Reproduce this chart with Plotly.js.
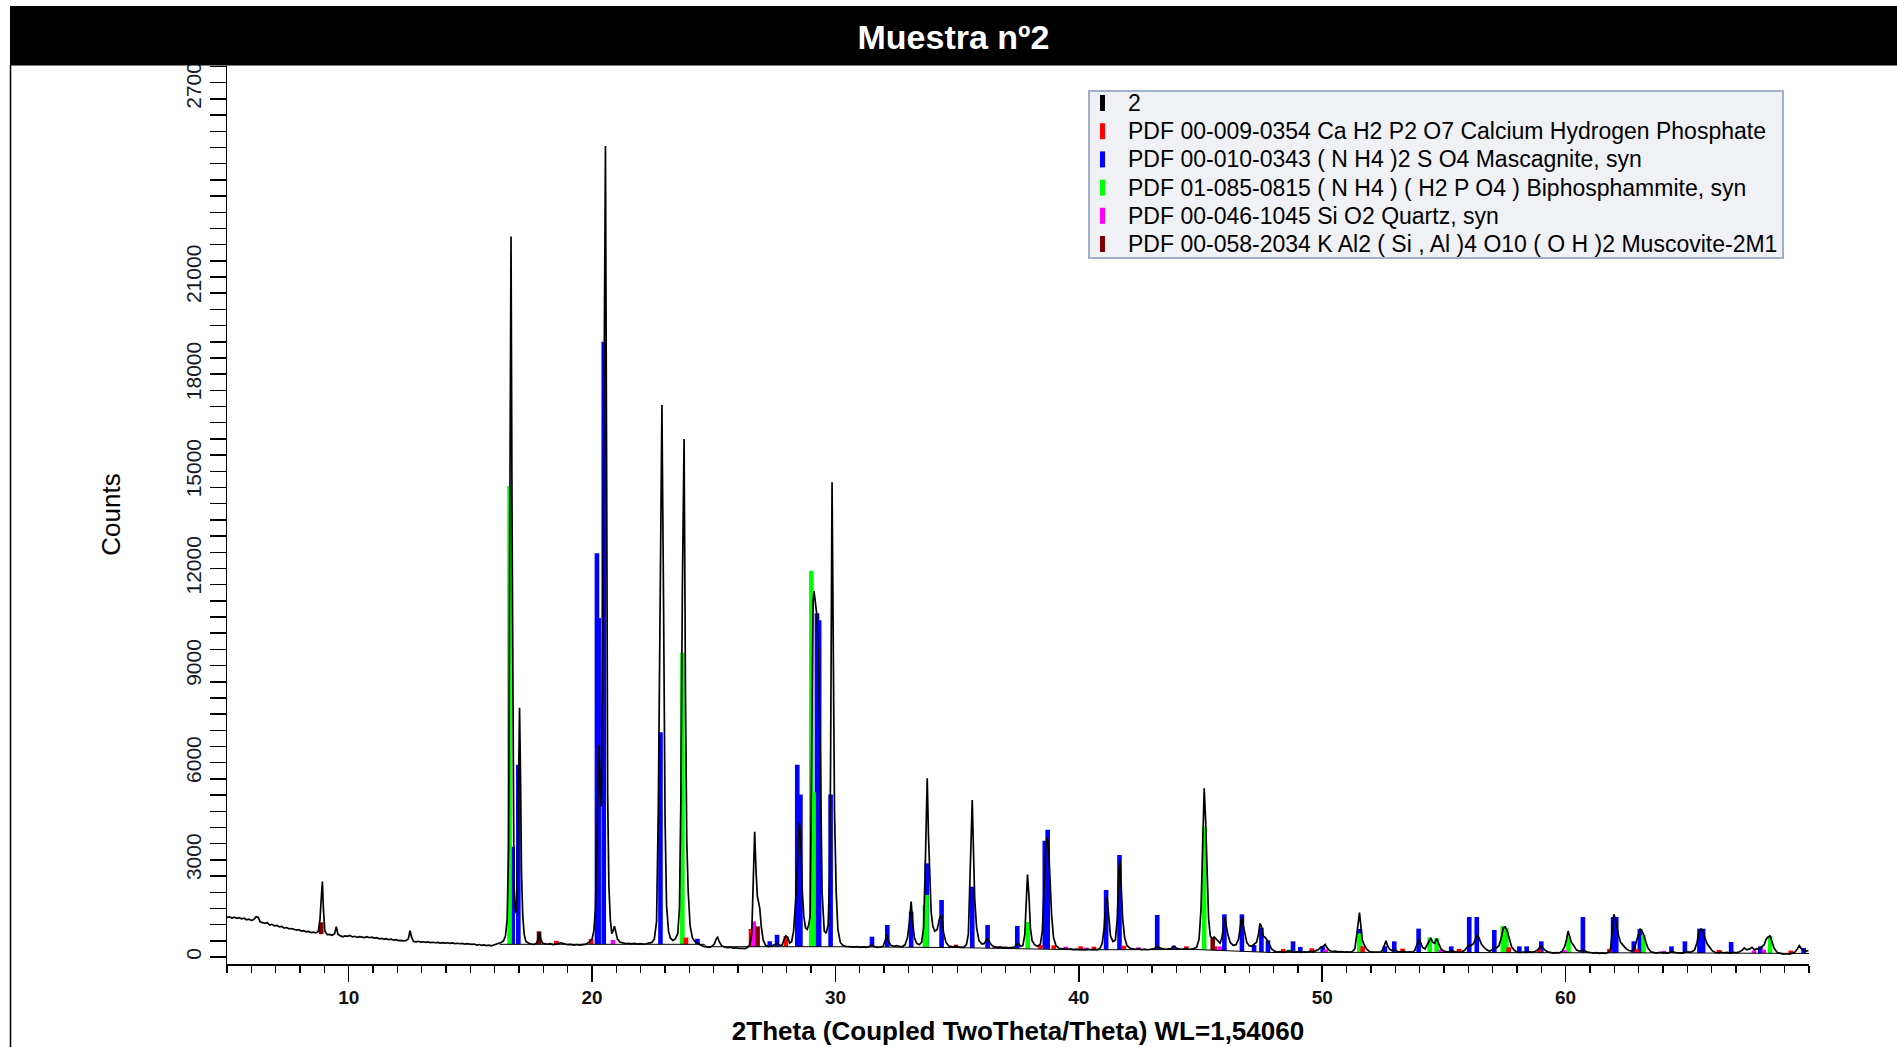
<!DOCTYPE html>
<html>
<head>
<meta charset="utf-8">
<script src="https://cdn.plot.ly/plotly-3.0.1.min.js"></script>
<style>html,body{margin:0;padding:0;background:#fff;}#chart{width:1897px;height:1047px;}</style>
</head>
<body>
<div id="chart"></div>
<script>
// ---------------- DATA ----------------
const chartTitle = "Muestra nº2";
const xTitle = "2Theta (Coupled TwoTheta/Theta) WL=1,54060";
const yTitle = "Counts";
const xTickVals = [10, 20, 30, 40, 50, 60];
const yTickVals = [0, 3000, 6000, 9000, 12000, 15000, 18000, 21000, 27000];

const legendLabels = [
  "2",
  "PDF 00-009-0354 Ca H2 P2 O7 Calcium Hydrogen Phosphate",
  "PDF 00-010-0343 ( N H4 )2 S O4 Mascagnite, syn",
  "PDF 01-085-0815 ( N H4 ) ( H2 P O4 ) Biphosphammite, syn",
  "PDF 00-046-1045 Si O2 Quartz, syn",
  "PDF 00-058-2034 K Al2 ( Si , Al )4 O10 ( O H )2 Muscovite-2M1"
];

// measured pattern "2"
const patTheta = [
5.00,5.10,5.20,5.30,5.40,5.50,5.60,5.70,5.80,5.90,6.00,6.10,6.20,6.28,6.36,6.45,6.55,6.65,6.75,6.85,6.95,7.05,7.15,7.25,7.35,7.45,7.55,7.65,7.75,7.85,7.95,8.05,8.15,8.25,8.35,8.45,8.55,8.65,8.75,8.82,8.88,8.92,8.96,9.02,9.12,9.22,9.32,9.42,9.49,9.56,9.65,9.75,9.85,9.95,
10.05,10.15,10.25,10.35,10.45,10.55,10.65,10.75,10.85,10.95,11.05,11.15,11.25,11.35,11.45,11.55,11.65,11.75,11.85,11.95,12.05,12.15,12.25,12.35,12.45,12.52,12.58,12.66,12.76,12.86,12.96,13.06,13.16,13.26,13.36,13.46,13.56,13.66,13.76,13.86,13.96,14.06,14.16,14.26,14.36,14.46,14.56,14.66,14.76,14.86,14.96,15.06,15.16,15.26,15.36,15.46,15.56,15.66,15.76,15.86,15.96,
16.06,16.16,16.26,16.36,16.44,16.51,16.57,16.62,16.67,16.71,16.75,16.79,16.84,16.89,16.93,16.98,17.02,17.06,17.10,17.15,17.21,17.28,17.38,17.50,17.62,17.72,17.79,17.84,17.89,17.96,18.06,18.16,18.28,18.40,18.52,18.62,18.72,18.80,18.90,19.00,19.12,19.24,19.36,19.48,19.60,19.72,19.82,19.92,
20.00,20.07,20.14,20.21,20.28,20.33,20.38,20.43,20.49,20.55,20.60,20.64,20.69,20.75,20.81,20.86,20.92,20.97,21.04,21.14,21.26,21.38,21.50,21.62,21.74,21.86,21.98,22.10,22.22,22.34,22.46,22.56,22.65,22.72,22.79,22.87,22.94,23.00,23.06,23.14,23.22,23.32,23.42,23.52,23.59,23.65,23.71,23.78,23.84,23.89,23.95,
24.03,24.12,24.22,24.34,24.46,24.58,24.70,24.82,24.92,25.02,25.10,25.16,25.22,25.32,25.44,25.56,25.68,25.80,25.92,26.04,26.16,26.28,26.38,26.48,26.56,26.62,26.68,26.74,26.79,26.84,26.89,26.95,27.03,27.13,27.25,27.38,27.50,27.60,27.70,27.80,27.88,27.96,28.04,28.12,28.20,28.28,28.36,28.44,28.52,28.58,28.64,28.70,28.77,28.84,28.90,28.96,
29.02,29.08,29.12,29.17,29.23,29.30,29.38,29.45,29.54,29.62,29.70,29.76,29.80,29.86,29.91,29.96,30.03,30.10,30.20,30.30,30.42,30.54,30.66,30.78,30.90,31.02,31.14,31.26,31.38,31.50,31.60,31.72,31.84,31.96,32.04,32.11,32.18,32.28,32.40,32.52,32.64,32.76,32.86,32.96,33.04,33.11,33.17,33.24,33.34,33.44,33.54,33.62,33.68,33.73,33.77,33.82,33.87,33.93,
34.00,34.08,34.18,34.28,34.36,34.44,34.54,34.66,34.78,34.90,35.02,35.14,35.26,35.38,35.46,35.53,35.58,35.62,35.67,35.72,35.80,35.90,36.02,36.12,36.22,36.30,36.40,36.52,36.64,36.76,36.88,37.00,37.12,37.24,37.36,37.44,37.52,37.60,37.70,37.78,37.84,37.89,37.95,38.01,38.08,38.18,38.30,38.42,38.50,38.57,38.63,38.69,38.75,38.81,38.88,38.96,
39.06,39.18,39.30,39.42,39.54,39.66,39.78,39.90,40.02,40.14,40.26,40.38,40.50,40.62,40.74,40.86,40.96,41.04,41.11,41.16,41.22,41.30,41.40,41.50,41.58,41.64,41.69,41.74,41.80,41.88,41.98,42.10,42.22,42.34,42.46,42.58,42.70,42.82,42.94,43.06,43.16,43.24,43.32,43.44,43.56,43.68,43.80,43.90,
44.00,44.12,44.24,44.36,44.48,44.60,44.72,44.84,44.94,45.02,45.09,45.15,45.21,45.27,45.33,45.40,45.48,45.56,45.64,45.72,45.80,45.88,45.95,46.00,46.05,46.12,46.22,46.34,46.46,46.56,46.63,46.69,46.75,46.82,46.90,47.00,47.10,47.20,47.30,47.38,47.44,47.50,47.57,47.66,47.74,47.82,47.92,
48.04,48.16,48.28,48.40,48.52,48.64,48.76,48.88,49.00,49.12,49.24,49.36,49.48,49.60,49.72,49.84,49.94,50.04,50.12,50.20,50.30,50.42,50.54,50.66,50.78,50.90,51.02,51.14,51.24,51.34,51.42,51.48,51.53,51.58,51.64,51.72,51.82,51.94,
52.06,52.18,52.30,52.42,52.50,52.56,52.62,52.68,52.76,52.86,52.98,53.10,53.22,53.34,53.46,53.58,53.70,53.80,53.88,53.96,54.04,54.12,54.22,54.32,54.40,54.46,54.54,54.62,54.70,54.78,54.88,55.00,55.12,55.24,55.36,55.48,55.60,55.72,55.84,55.94,
56.02,56.10,56.20,56.30,56.38,56.46,56.54,56.64,56.76,56.88,57.00,57.08,57.16,57.26,57.36,57.44,57.52,57.60,57.68,57.78,57.90,58.02,58.14,58.26,58.38,58.50,58.62,58.74,58.86,58.96,59.04,59.14,59.26,59.38,59.50,59.62,59.74,59.86,59.96,
60.04,60.10,60.16,60.24,60.34,60.44,60.56,60.68,60.78,60.90,61.02,61.14,61.26,61.38,61.50,61.62,61.74,61.84,61.92,61.98,62.04,62.10,62.18,62.26,62.36,62.48,62.60,62.72,62.82,62.92,63.00,63.06,63.12,63.20,63.28,63.38,63.50,63.62,63.74,63.86,63.98,
64.10,64.22,64.34,64.46,64.58,64.70,64.82,64.94,65.06,65.18,65.30,65.40,65.48,65.56,65.64,65.72,65.82,65.92,66.04,66.16,66.28,66.40,66.52,66.64,66.76,66.88,67.00,67.12,67.24,67.34,67.44,67.56,67.66,67.76,67.86,67.96,
68.06,68.16,68.24,68.32,68.40,68.48,68.58,68.70,68.82,68.94,69.06,69.18,69.30,69.42,69.52,69.60,69.68,69.78,69.88,69.98];
const patCounts = [
1225,1240,1205,1230,1195,1215,1180,1200,1150,1170,1130,1160,1245,1230,1090,1070,1040,1060,990,1010,960,975,930,945,890,910,870,880,850,830,845,800,815,780,790,755,770,745,790,1150,1900,2330,1500,800,690,700,670,720,935,700,660,625,650,640,
665,620,640,605,630,615,600,625,595,610,585,600,560,575,550,565,535,550,520,535,505,515,495,505,560,810,620,480,470,485,460,470,450,465,445,455,440,450,430,445,430,440,420,435,415,425,410,420,400,415,395,390,400,370,385,360,375,350,365,345,370,
390,420,450,500,650,1150,3400,13500,22250,14000,5200,2300,1500,1350,2600,5800,7700,5600,2600,1300,700,480,430,400,390,420,560,765,560,430,410,395,410,385,400,415,440,425,395,380,390,370,385,365,380,390,430,480,
560,800,1500,3800,6550,5200,4650,9500,19000,25050,14500,5000,2200,1150,720,800,950,760,560,460,430,415,425,405,420,400,415,400,410,420,450,560,1100,4500,10600,17050,10600,4200,1600,800,580,510,560,720,1500,5000,11400,16000,7860,3600,2000,
950,600,480,420,370,330,310,300,330,400,560,610,480,350,310,290,300,275,285,265,270,260,290,380,700,2200,3870,2600,1870,1700,1500,950,520,360,320,340,380,420,370,360,520,650,600,430,480,800,1700,3200,4170,3600,2000,1250,900,850,1000,1250,
6900,11000,11300,11000,10600,9200,6080,2000,800,740,1000,2500,6000,14660,8000,4540,2000,850,450,360,330,320,315,305,320,300,315,300,320,370,320,300,310,330,500,700,480,360,330,350,320,330,380,600,1100,1710,1100,600,420,380,450,900,2500,4500,5520,3800,2300,1400,
950,800,850,1200,1300,750,450,340,320,310,300,290,300,380,700,2500,4000,4850,3300,1800,900,500,400,420,560,500,380,320,300,310,290,300,280,290,310,380,420,330,350,700,1800,2550,1900,900,500,380,330,400,800,2000,3200,3700,3500,2500,1300,600,
350,270,250,260,240,250,230,240,225,235,220,240,225,235,225,260,420,900,1700,1850,1200,650,480,520,1200,2600,3000,2300,1200,600,350,270,250,240,250,230,240,225,240,250,290,330,280,250,240,250,260,330,
280,250,240,260,240,245,260,300,550,1500,3500,5210,4200,2500,1200,650,560,620,560,480,430,600,1000,1230,1000,700,450,360,380,550,900,1250,1000,700,450,350,330,400,450,700,1040,950,650,600,520,400,250,
180,150,165,145,160,190,170,150,165,145,160,150,170,160,190,230,300,330,390,280,200,170,180,160,170,150,160,150,170,250,700,1200,1370,1000,550,380,250,170,
150,155,150,160,250,420,500,350,250,200,220,170,160,175,155,160,150,200,350,520,450,300,250,380,520,580,450,420,570,400,250,180,160,170,190,150,145,160,200,280,
360,350,400,550,690,550,400,300,220,180,230,300,280,350,600,900,930,800,550,320,200,150,140,155,145,160,150,170,220,330,300,220,160,140,120,135,125,180,320,
550,800,650,450,350,220,180,200,190,150,140,120,135,115,125,110,140,220,800,1320,1200,950,650,450,350,260,200,180,260,500,700,860,830,700,500,280,160,130,120,140,125,
135,120,170,140,125,130,120,170,150,160,220,450,800,860,820,600,400,300,180,140,130,150,125,140,120,150,130,155,200,280,220,250,300,220,260,240,
300,380,550,620,650,450,250,140,110,90,100,85,110,150,250,350,260,200,180,200];

// fitted background (stick baseline)
const bgTheta  = [5.0, 6.0, 7.0, 8.0, 9.0, 10.0, 11.0, 12.0, 13.0, 14.0, 15.0, 16.2, 24.6, 24.7, 30.1, 35.0, 39.0, 40.0, 44.8, 47.9, 50.0, 55.0, 60.0, 65.0, 70.0];
const bgCounts = [1200, 1130, 940, 800, 690, 630, 580, 510, 455, 425, 385, 392, 392, 318, 318, 290, 250, 222, 232, 140, 145, 145, 130, 125, 110];

// reference sticks: position (2Theta) and top (counts)
const calciumPos = [18.53, 19.96, 23.86, 26.53, 27.96, 38.42, 38.97, 40.07, 40.62, 41.85, 44.42, 45.58, 48.40, 49.57, 51.66, 53.30, 55.62, 57.66, 58.92, 61.80, 62.93, 66.30, 69.25];
const calciumTop = [500, 560, 600, 867, 650, 370, 360, 330, 320, 350, 330, 330, 250, 270, 330, 260, 250, 300, 240, 250, 240, 220, 200];

const mascagnitePos = [16.74, 16.97, 20.20, 20.27, 20.48, 22.81, 24.33, 27.30, 27.60, 28.43, 28.56, 29.24, 29.33, 29.80, 31.50, 32.13, 33.11, 33.75, 34.36, 35.62, 36.25, 37.47, 38.60, 38.72, 41.12, 41.67, 43.22, 43.90, 45.98, 46.70, 47.20, 47.50, 47.77, 48.80, 49.10, 50.02, 51.55, 52.57, 52.96, 53.96, 55.30, 56.04, 56.35, 57.07, 58.10, 58.40, 59.00, 60.71, 61.95, 62.08, 62.80, 63.05, 64.35, 64.90, 65.50, 65.65, 66.80, 68.00, 69.78];
const mascagniteTop = [3400, 5940, 12470, 10470, 19000, 6940, 563, 485, 686, 5940, 5020, 10620, 10400, 5020, 627, 988, 1400, 2893, 1760, 2171, 988, 960, 3590, 3930, 2069, 3150, 1297, 349, 1318, 1318, 370, 906, 515, 484, 309, 330, 865, 329, 484, 875, 329, 1235, 1235, 834, 329, 329, 484, 1235, 1235, 1235, 484, 865, 329, 484, 875, 875, 463, 329, 280];

const biphosPos = [16.61, 23.71, 29.01, 29.10, 33.68, 33.74, 37.90, 45.15, 48.62, 51.54, 54.42, 54.70, 57.42, 57.56, 60.12, 63.20, 68.40];
const biphosTop = [14550, 9400, 11930, 5090, 1606, 1915, 1081, 4024, 230, 731, 607, 576, 957, 900, 628, 679, 649];

const quartzPos = [20.86, 26.64, 36.54, 39.47, 40.29, 42.45, 45.79, 50.14, 54.87, 59.96, 64.03, 67.74, 68.14];
const quartzTop = [525, 1100, 340, 320, 290, 300, 330, 230, 230, 210, 190, 200, 230];

const muscovitePos = [8.87, 17.82, 26.80, 34.95, 45.50];
const muscoviteTop = [1071, 794, 945, 380, 577];

// ---------------- STYLE / LAYOUT ----------------
const W = 1897, H = 1047;
const M = {l: 227, r: 88, t: 65, b: 83};
const plotW = W - M.l - M.r, plotH = H - M.t - M.b;
const px = x => (x - M.l) / plotW;
const py = y => (H - M.b - y) / plotH;
const ARIAL = "Liberation Sans, Arial, Helvetica, sans-serif";
const colors = ["#000000", "#ff0000", "#0000ff", "#00ff00", "#ff00ff", "#800000"];

function interp(xs, ys, x) {
  if (x <= xs[0]) return ys[0];
  for (let i = 1; i < xs.length; i++) {
    if (x <= xs[i]) {
      const f = (x - xs[i-1]) / (xs[i] - xs[i-1]);
      return ys[i-1] + f * (ys[i] - ys[i-1]);
    }
  }
  return ys[ys.length - 1];
}

function stickTrace(name, pos, top, color) {
  const base = pos.map(p => interp(bgTheta, bgCounts, p));
  return {
    type: 'bar', name: name, x: pos, y: top.map((t, i) => t - base[i]), base: base,
    width: 0.19, marker: {color: color, line: {width: 0}}, hoverinfo: 'skip', showlegend: false
  };
}

const bgShown = bgTheta.map((t, i) => [t, bgCounts[i]]).filter(p => p[0] >= 16.2);

const traces = [
  stickTrace(legendLabels[2], mascagnitePos, mascagniteTop, colors[2]),
  stickTrace(legendLabels[3], biphosPos, biphosTop, colors[3]),
  stickTrace(legendLabels[1], calciumPos, calciumTop, colors[1]),
  stickTrace(legendLabels[4], quartzPos, quartzTop, colors[4]),
  stickTrace(legendLabels[5], muscovitePos, muscoviteTop, colors[5]),
  {type: 'scatter', mode: 'lines', name: 'background', x: bgShown.map(p => p[0]), y: bgShown.map(p => p[1]),
   line: {color: '#000', width: 1}, hoverinfo: 'skip', showlegend: false},
  {type: 'scatter', mode: 'lines', name: legendLabels[0], x: patTheta, y: patCounts,
   line: {color: '#000', width: 1.7}, hoverinfo: 'skip', showlegend: false}
];

const shapes = [
  // title bar
  {type: 'rect', xref: 'paper', yref: 'paper', x0: px(10), x1: px(1897), y0: py(65.5), y1: py(6),
   fillcolor: '#000', line: {width: 0}, layer: 'above'},
  // left frame line
  {type: 'line', xref: 'paper', yref: 'paper', x0: px(10.5), x1: px(10.5), y0: py(65), y1: py(1047),
   line: {color: '#000', width: 1.5}, layer: 'above'},
  // legend box
  {type: 'rect', xref: 'paper', yref: 'paper', x0: px(1089), x1: px(1783), y0: py(258), y1: py(91),
   fillcolor: '#f0f1f4', line: {color: '#9fb0c8', width: 2}, layer: 'above'}
];
const annotations = [];
const rowY0 = 103, rowStep = 28.2;
legendLabels.forEach((lab, i) => {
  const yc = rowY0 + i * rowStep;
  shapes.push({type: 'rect', xref: 'paper', yref: 'paper', x0: px(1100), x1: px(1105), y0: py(yc + 8), y1: py(yc - 8),
    fillcolor: colors[i], line: {width: 0}, layer: 'above'});
  annotations.push({xref: 'paper', yref: 'paper', x: px(1126), y: py(yc), xanchor: 'left', yanchor: 'middle',
    text: lab, showarrow: false, font: {family: ARIAL, size: 23, color: '#000'}});
});

const layout = {
  width: W, height: H, margin: M,
  paper_bgcolor: '#fff', plot_bgcolor: '#fff',
  showlegend: false, hovermode: false, barmode: 'overlay',
  title: {text: '<b>' + chartTitle + '</b>', font: {family: ARIAL, size: 34, color: '#fff'},
          xref: 'container', yref: 'container', x: 953.5 / W, xanchor: 'center', y: 1 - 37 / H, yanchor: 'middle'},
  xaxis: {
    range: [5, 70], showline: true, linecolor: '#000', linewidth: 1.5, mirror: false,
    showgrid: false, zeroline: false,
    ticks: 'outside', ticklen: 16, tickwidth: 1.5, tickcolor: '#000',
    tickmode: 'array', tickvals: xTickVals, ticktext: xTickVals.map(String),
    tickfont: {family: ARIAL, size: 19, color: '#111', weight: 'bold'},
    minor: {tickmode: 'linear', tick0: 0, dtick: 1, ticks: 'outside', ticklen: 7, tickwidth: 1.3, tickcolor: '#000', showgrid: false},
    title: {text: xTitle, font: {family: ARIAL, size: 26, color: '#000', weight: 'bold'}, standoff: 14}
  },
  yaxis: {
    range: [-216, 27548], showline: true, linecolor: '#000', linewidth: 1.5,
    showgrid: false, zeroline: false,
    ticks: 'outside', ticklen: 16, tickwidth: 1.5, tickcolor: '#000',
    tickmode: 'array', tickvals: yTickVals, ticktext: yTickVals.map(String), tickangle: -90,
    tickfont: {family: ARIAL, size: 21, color: '#1a1a26'},
    minor: {tickmode: 'linear', tick0: 0, dtick: 500, ticks: 'outside', ticklen: 16, tickwidth: 1.5, tickcolor: '#000', showgrid: false},
    title: {text: yTitle, font: {family: ARIAL, size: 26, color: '#000'}, standoff: 54}
  },
  shapes: shapes,
  annotations: annotations
};

Plotly.newPlot('chart', traces, layout, {displayModeBar: false, staticPlot: true});
</script>
</body>
</html>
